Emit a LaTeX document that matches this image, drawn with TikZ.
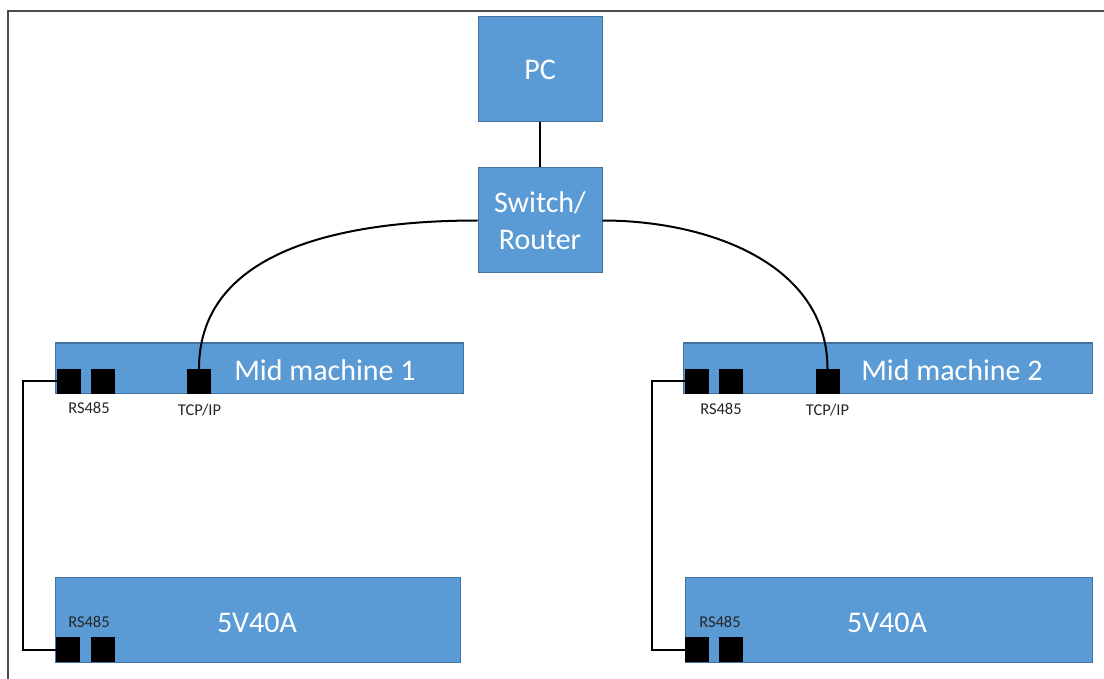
\documentclass[tikz,border=0pt]{standalone}
\usepackage{fontspec}
\setmainfont{Carlito}
\usetikzlibrary{positioning}

\definecolor{boxblue}{HTML}{5B9BD5}
\definecolor{boxedge}{HTML}{41719C}

\tikzset{
  unit/.style={draw=boxedge, line width=1pt, fill=boxblue, inner sep=0pt},
  caption/.style={text=white, font=\fontsize{30}{37}\selectfont, align=center},
  port/.style={fill=black, draw=black, minimum width=23pt, minimum height=24pt, inner sep=0pt},
  tag/.style={text=black!85, font=\fontsize{16.5}{18}\selectfont, inner sep=0pt},
  wire/.style={line width=2pt}
}

\begin{document}
\begin{tikzpicture}[x=1pt, y=-1pt]
  \useasboundingbox (0,0) rectangle (1104,679);
  % frame
  \draw[black!70, line width=1.2pt] (1104,11) -- (8,11) -- (8,679);

  % PC and switch
  \node[unit, caption, minimum width=124pt, minimum height=105pt] (pc) at (540,69.5) {PC};
  \node[unit, caption, minimum width=124pt, minimum height=105pt] (switch) at (540,220.5) {Switch/\\Router};

  % mid machines
  \node[unit, minimum width=408pt, minimum height=50pt] (mid1) at (259,368) {};
  \node[caption] (mid1txt) at (325,370) {Mid machine 1};
  \node[unit, minimum width=409pt, minimum height=50pt] (mid2) at (887.5,368) {};
  \node[caption] (mid2txt) at (952,370) {Mid machine 2};

  % power supplies
  \node[unit, minimum width=405pt, minimum height=85pt] (psu1) at (257.5,619.5) {};
  \node[caption] (psu1txt) at (257,623) {5V40A};
  \node[unit, minimum width=407pt, minimum height=85pt] (psu2) at (888.5,619.5) {};
  \node[caption] (psu2txt) at (887,623) {5V40A};

  % ports
  \node[port] (m1a) at (68.5,381) {};
  \node[port] (m1b) at (103,381) {};
  \node[port] (m1t) at (199,381) {};
  \node[port] (m2a) at (696.5,381) {};
  \node[port] (m2b) at (731,381) {};
  \node[port] (m2t) at (827.5,381) {};
  \node[port] (p1a) at (68,649.5) {};
  \node[port] (p1b) at (103,649.5) {};
  \node[port] (p2a) at (697,649.5) {};
  \node[port] (p2b) at (731,649.5) {};

  % port tags
  \node[tag] (m1rs) at (89,408) {RS485};
  \node[tag] (m1tcp) at (199.5,410) {TCP/IP};
  \node[tag] (m2rs) at (721,409) {RS485};
  \node[tag] (m2tcp) at (827.5,410) {TCP/IP};
  \node[tag] (p1rs) at (89,622) {RS485};
  \node[tag] (p2rs) at (720,622) {RS485};

  % connections
  \draw[wire] (pc) -- (switch);
  \draw[wire] (switch.west) to[out=180, in=90] (m1t.north);
  \draw[wire] (switch.east) to[out=0, in=90] (m2t.north);
  \draw[wire] (m1a.west) -- ++(-34,0) |- (p1a.west);
  \draw[wire] (m2a.west) -- ++(-33,0) |- (p2a.west);
\end{tikzpicture}
\end{document}
